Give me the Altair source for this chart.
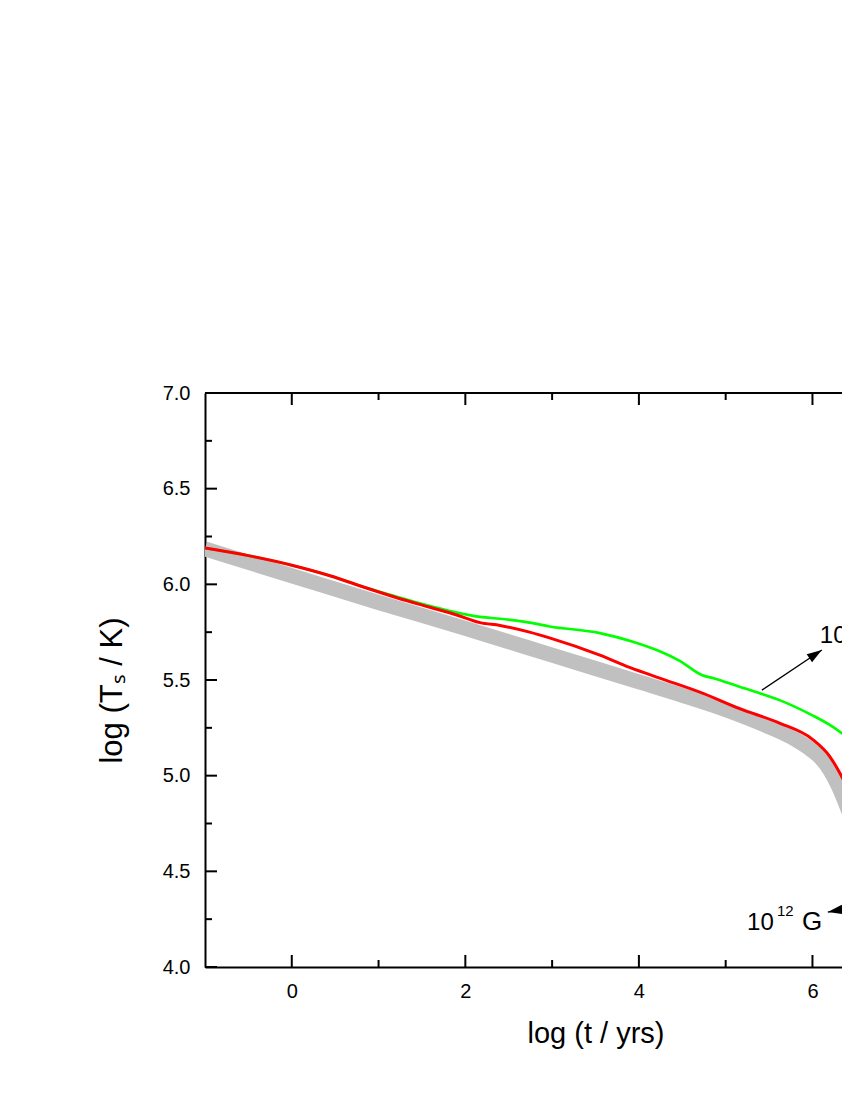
import math
import altair as alt
import pandas as pd

# ---- data ----
gray_x = [-1.0, 0.0, 1.0, 2.0, 3.0, 4.0, 4.5, 5.0, 5.5, 5.8, 6.0, 6.1, 6.2, 6.3, 6.43, 6.55, 6.7]
gray_y = [6.185, 6.045, 5.905, 5.77, 5.63, 5.49, 5.42, 5.345, 5.255, 5.19, 5.13, 5.09, 5.03, 4.945, 4.80, 4.65, 4.45]

red_x = [-1.0, -0.5, 0.0, 0.44, 0.8, 1.21, 1.59, 1.9, 2.17, 2.4, 2.74, 2.97, 3.55, 3.9, 4.24,
         4.74, 5.16, 5.62, 6.0, 6.2, 6.32, 6.43, 6.55, 6.7]
red_y = [6.19, 6.15, 6.10, 6.045, 5.99, 5.93, 5.88, 5.84, 5.80, 5.785, 5.75, 5.72, 5.63, 5.565, 5.51,
         5.43, 5.35, 5.275, 5.19, 5.10, 5.01, 4.91, 4.78, 4.60]

green_x = [-1.0, -0.5, 0.0, 0.44, 0.8, 1.21, 1.4, 1.79, 2.17, 2.4, 2.74, 2.97, 3.55, 3.93, 4.24,
           4.47, 4.73, 4.85, 5.16, 5.4, 5.62, 6.0, 6.2, 6.43, 6.6]
green_y = [6.19, 6.15, 6.10, 6.045, 5.99, 5.935, 5.91, 5.865, 5.83, 5.82, 5.80, 5.78, 5.745, 5.70, 5.65,
           5.60, 5.525, 5.51, 5.465, 5.43, 5.395, 5.315, 5.265, 5.19, 5.13]

x_major = [0, 2, 4, 6]
x_minor = [1, 3, 5]
y_major = [4.0, 4.5, 5.0, 5.5, 6.0, 6.5, 7.0]
y_minor = [4.25, 4.75, 5.25, 5.75, 6.25, 6.75]

# field labels: base "10", superscript exponent, unit
labels_base = ["10", "10"]
labels_exp = ["14", "12"]
labels_unit = ["G", "G"]
labels_x = [6.085, 5.246]
labels_y = [5.693, 4.193]

arrow_tail_x = [5.417, 6.78]
arrow_tail_y = [5.447, 4.335]
arrow_tip_x = [6.108, 6.177]
arrow_tip_y = [5.657, 4.287]

PX_PER_UNIT = 86.78
W, H = 637, 574
X_DOMAIN = [-1, -1 + W / PX_PER_UNIT]
Y_DOMAIN = [4, 7]
FONT = "Liberation Sans"

xs = alt.Scale(domain=X_DOMAIN, nice=False, zero=False)
ys = alt.Scale(domain=Y_DOMAIN, nice=False, zero=False)

gray_df = pd.DataFrame({"x": gray_x, "y": gray_y})
red_df = pd.DataFrame({"x": red_x, "y": red_y})
green_df = pd.DataFrame({"x": green_x, "y": green_y})

x_axis = alt.Axis(values=x_major, format="d", ticks=False, domain=True, domainColor="black",
                  domainWidth=2, grid=False,
                  labelFontSize=20, labelPadding=14, labelColor="black",
                  title="log (t / yrs)", titleFontSize=29, titleFontWeight="normal",
                  titleColor="black", titleX=4.5 * PX_PER_UNIT,
                  titleY=66, titleBaseline="middle",
                  labelFont=FONT, titleFont=FONT)
y_axis = alt.Axis(values=y_major, format=".1f", ticks=False, domain=True, domainColor="black",
                  domainWidth=2, grid=False,
                  labelFontSize=20, labelPadding=15, labelColor="black",
                  title="log (T\u209b / K)", titleFontSize=31, titleFontWeight="normal",
                  titleColor="black", titleX=-93, titleY=297, titleBaseline="middle",
                  titleAngle=270, labelFont=FONT, titleFont=FONT)

X = lambda f: alt.X(f, scale=xs, axis=x_axis)
Y = lambda f: alt.Y(f, scale=ys, axis=y_axis)

gray = alt.Chart(gray_df).mark_line(color="#c0c0c0", strokeWidth=15, clip=True, strokeCap="butt",
                                    interpolate="monotone").encode(
    x=X("x:Q"), y=Y("y:Q"), order="x:Q")
green = alt.Chart(green_df).mark_line(color="#00ff00", strokeWidth=2.6, clip=True,
                                      interpolate="monotone").encode(
    x=X("x:Q"), y=Y("y:Q"), order="x:Q")
red = alt.Chart(red_df).mark_line(color="#ff0000", strokeWidth=3, clip=True,
                                  interpolate="monotone").encode(
    x=X("x:Q"), y=Y("y:Q"), order="x:Q")

# inward ticks
def xticks(vals, length):
    df = pd.DataFrame({"x": vals})
    b = alt.Chart(df).mark_rule(color="black", strokeWidth=2)
    bottom = b.encode(x=X("x:Q"), y=alt.value(H), y2=alt.value(H - length))
    top = b.encode(x=X("x:Q"), y=alt.value(0), y2=alt.value(length))
    return [bottom, top]

def yticks(vals, length):
    df = pd.DataFrame({"y": vals})
    b = alt.Chart(df).mark_rule(color="black", strokeWidth=2)
    left = b.encode(y=Y("y:Q"), x=alt.value(0), x2=alt.value(length))
    return [left]

tick_layers = xticks(x_major, 12) + xticks(x_minor, 7) + yticks(y_major, 12) + yticks(y_minor, 7)

top_border = alt.Chart(pd.DataFrame({"k": [0]})).mark_rule(color="black", strokeWidth=2).encode(
    x=alt.value(0), x2=alt.value(W), y=alt.value(0))

# annotations
angles = []
for tx, ty, hx, hy in zip(arrow_tail_x, arrow_tail_y, arrow_tip_x, arrow_tip_y):
    dx = (hx - tx) * PX_PER_UNIT
    dy = -(hy - ty) * (H / (Y_DOMAIN[1] - Y_DOMAIN[0]))
    angles.append(math.degrees(math.atan2(dx, -dy)) % 360)

arrow_df = pd.DataFrame({"x": arrow_tail_x, "y": arrow_tail_y, "x2": arrow_tip_x, "y2": arrow_tip_y,
                         "angle": angles})
shafts = alt.Chart(arrow_df).mark_rule(color="black", strokeWidth=1.3, clip=True).encode(
    x=X("x:Q"), y=Y("y:Q"), x2="x2:Q", y2="y2:Q")
heads = alt.Chart(arrow_df).mark_point(
    shape="M0,0 L-0.32,1 L0.32,1 Z", filled=True, color="black", opacity=1, size=900, clip=True
).encode(x=X("x2:Q"), y=Y("y2:Q"), angle=alt.Angle("angle:Q", scale=None))

lab_df = pd.DataFrame({"base": labels_base, "exp": labels_exp, "unit": labels_unit,
                       "x": labels_x, "y": labels_y})
base_txt = alt.Chart(lab_df).mark_text(
    align="left", baseline="alphabetic", fontSize=24, font=FONT, color="black"
).encode(x=X("x:Q"), y=Y("y:Q"), text="base:N")
exp_txt = alt.Chart(lab_df).mark_text(
    align="left", baseline="alphabetic", fontSize=15, font=FONT, color="black", dx=30, dy=-14
).encode(x=X("x:Q"), y=Y("y:Q"), text="exp:N")
unit_txt = alt.Chart(lab_df).mark_text(
    align="left", baseline="alphabetic", fontSize=26, font=FONT, color="black", dx=55
).encode(x=X("x:Q"), y=Y("y:Q"), text="unit:N")

chart = alt.layer(gray, green, red, *tick_layers, top_border, shafts, heads,
                  base_txt, exp_txt, unit_txt).properties(
    width=W, height=H,
    autosize=alt.AutoSizeParams(type="none"),
    padding={"left": 197, "top": 385, "right": 0, "bottom": 100},
    background="white",
).configure_view(stroke="transparent")

chart.save("out.html", embed_options={"renderer": "svg", "actions": False})
